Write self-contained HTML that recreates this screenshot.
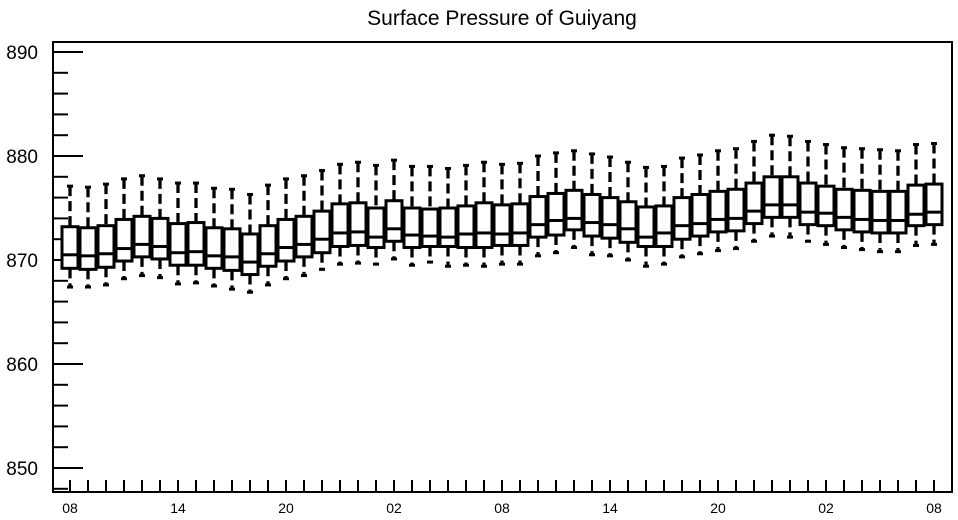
<!DOCTYPE html>
<html><head><meta charset="utf-8"><style>
html,body{margin:0;padding:0;background:#fff;}
svg{display:block;font-family:"Liberation Sans",Arial,sans-serif;}
</style></head><body>
<svg id="chart" width="958" height="520">
<text x="502" y="25" text-anchor="middle" font-size="21">Surface Pressure of Guiyang</text>
<rect x="53" y="42" width="899" height="450" fill="none" stroke="#000" stroke-width="2"/>
<g id="yaxis"></g>
<g id="xaxis"></g>
<g id="boxes"></g>
</svg>
<script>
const whiskerTop=[877.1,877.0,877.3,877.8,878.1,877.8,877.4,877.4,876.9,876.8,876.3,877.2,877.8,878.1,878.6,879.2,879.4,879.1,879.6,879.0,879.0,878.8,879.1,879.4,879.2,879.3,880.0,880.3,880.5,880.2,879.9,879.4,878.9,879.0,879.8,880.1,880.5,880.7,881.4,882.0,881.9,881.4,881.1,880.8,880.7,880.6,880.5,881.1,881.2];
const q3=[873.2,873.1,873.3,873.9,874.2,874.0,873.5,873.6,873.1,873.0,872.5,873.3,873.9,874.2,874.7,875.4,875.5,875.0,875.7,875.0,874.9,875.0,875.2,875.5,875.3,875.4,876.1,876.4,876.7,876.3,876.0,875.6,875.1,875.2,876.0,876.3,876.6,876.8,877.4,878.0,878.0,877.4,877.1,876.8,876.7,876.6,876.6,877.2,877.3];
const median=[870.5,870.4,870.6,871.1,871.5,871.3,870.7,870.8,870.4,870.3,869.8,870.6,871.2,871.5,872.0,872.6,872.7,872.2,873.0,872.4,872.3,872.2,872.5,872.6,872.5,872.6,873.4,873.8,874.0,873.6,873.4,873.0,872.2,872.6,873.3,873.5,873.9,874.0,874.7,875.3,875.3,874.6,874.5,874.1,873.9,873.8,873.8,874.4,874.6];
const q1=[869.2,869.1,869.3,869.9,870.3,870.1,869.5,869.5,869.2,869.0,868.6,869.4,869.9,870.3,870.7,871.3,871.4,871.2,871.8,871.2,871.3,871.3,871.2,871.2,871.4,871.4,872.2,872.4,872.9,872.3,872.1,871.7,871.3,871.3,872.0,872.3,872.7,872.8,873.5,874.1,874.1,873.4,873.3,872.9,872.7,872.6,872.6,873.3,873.4];
const whiskerBottom=[867.4,867.4,867.6,868.2,868.5,868.3,867.7,867.8,867.5,867.2,866.9,867.6,868.2,868.5,869.1,869.6,869.7,869.6,870.1,869.5,869.8,869.4,869.5,869.4,869.6,869.6,870.4,870.7,871.2,870.5,870.4,870.0,869.4,869.6,870.3,870.6,870.9,871.1,871.8,872.3,872.2,871.8,871.5,871.2,871.0,870.8,870.8,871.4,871.5];
const yTickLabels=[850,860,870,880,890];
const xTickLabels=["08","14","20","02","08","14","20","02","08"];

const NS="http://www.w3.org/2000/svg";
function y(v){return 260-(v-870)*10.4;}
function x(i){return 70+18*i;}
function mk(tag,attrs,parent){const e=document.createElementNS(NS,tag);for(const k in attrs)e.setAttribute(k,attrs[k]);parent.appendChild(e);return e;}
const ya=document.getElementById('yaxis'),xa=document.getElementById('xaxis'),bx=document.getElementById('boxes');
for(let v=848;v<=890;v+=2){
  const major=yTickLabels.includes(v);
  const t=mk('line',{x1:53,x2:major?83:68,y1:y(v),y2:y(v),stroke:'#000','stroke-width':2},ya);
  
  
}
yTickLabels.forEach(v=>{
  const t=mk('text',{x:38,y:y(v)+7,'text-anchor':'end','font-size':19},ya);
  t.textContent=v;
  
  
});
for(let i=0;i<median.length;i++){
  const t=mk('line',{x1:x(i),x2:x(i),y1:492,y2:480,stroke:'#000','stroke-width':2},xa);
  
  
}
xTickLabels.forEach((s,k)=>{
  const t=mk('text',{x:x(k*6),y:513,'text-anchor':'middle','font-size':14},xa);
  t.textContent=s;
  
  
});
for(let i=0;i<median.length;i++){
  const g=mk('g',{},bx);
  
  
  const cx=x(i);
  mk('line',{x1:cx,x2:cx,y1:y(whiskerTop[i]),y2:y(q3[i]),stroke:'#000','stroke-width':3.3,'stroke-dasharray':'10,5'},g);
  mk('line',{x1:cx,x2:cx,y1:y(q1[i]),y2:y(whiskerBottom[i]),stroke:'#000','stroke-width':3.3,'stroke-dasharray':'10,5'},g);
  mk('line',{x1:cx-3,x2:cx+3,y1:y(whiskerTop[i]),y2:y(whiskerTop[i]),stroke:'#000','stroke-width':3},g);
  mk('line',{x1:cx-3,x2:cx+3,y1:y(whiskerBottom[i]),y2:y(whiskerBottom[i]),stroke:'#000','stroke-width':3},g);
  mk('rect',{x:cx-8,y:y(q3[i]),width:16,height:y(q1[i])-y(q3[i]),fill:'#fff',stroke:'#000','stroke-width':3},g);
  mk('line',{x1:cx-8,x2:cx+8,y1:y(median[i]),y2:y(median[i]),stroke:'#000','stroke-width':3},g);
}
</script>
</body></html>
